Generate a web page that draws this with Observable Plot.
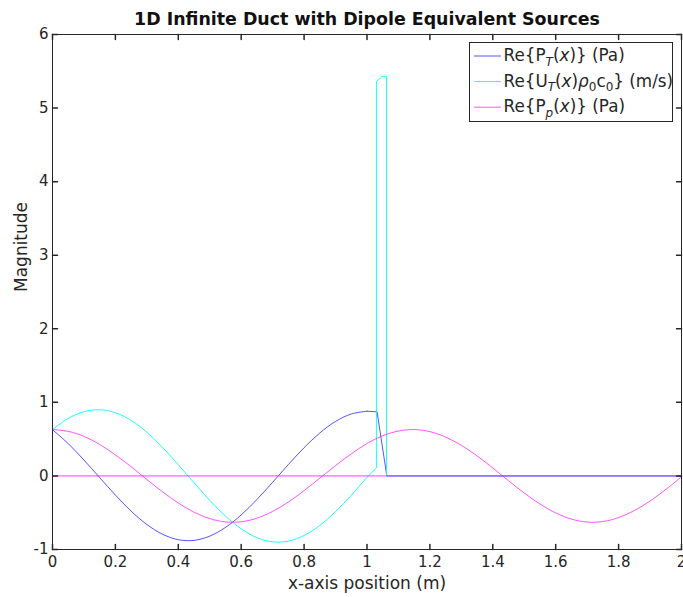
<!DOCTYPE html>
<html>
<head>
<meta charset="utf-8">
<script src="https://cdn.jsdelivr.net/npm/d3@7"></script>
<script src="https://cdn.jsdelivr.net/npm/@observablehq/plot@0.6"></script>
<style>
  body { margin: 0; background: #fff; }
  #chart svg { display: block; }
</style>
</head>
<body>
<div id="chart"></div>
<script>
// Sample positions along the duct (m)
const xGrid = [0, 0.05, 0.1, 0.15, 0.2, 0.25, 0.3, 0.35, 0.4, 0.45, 0.5, 0.55, 0.6, 0.65, 0.7, 0.75, 0.8, 0.85, 0.9, 0.95, 1.0,
  1.05, 1.1, 1.15, 1.2, 1.25, 1.3, 1.35, 1.4, 1.45, 1.5, 1.55, 1.6, 1.65, 1.7, 1.75, 1.8, 1.85, 1.9, 1.95, 2.0];

// Re{P_p(x)} (Pa) over the whole duct
const pPrimary = [0.63, 0.606, 0.538, 0.428, 0.286, 0.125, -0.048, -0.216, -0.368, -0.493, -0.58, -0.625, -0.623, -0.574, -0.482, -0.355, -0.2, -0.03, 0.14, 0.301, 0.44,
  0.546, 0.61, 0.63, 0.602, 0.528, 0.416, 0.272, 0.108, -0.065, -0.232, -0.382, -0.503, -0.587, -0.627, -0.62, -0.566, -0.471, -0.341, -0.184, -0.013];

// Re{P_T(x)} (Pa): smooth part up to x = 1.0, then the drop past the source
const pTotal = [0.629, 0.439, 0.216, -0.023, -0.26, -0.479, -0.66, -0.793, -0.867, -0.876, -0.818, -0.7, -0.53, -0.32, -0.086, 0.155, 0.384, 0.584, 0.741, 0.842, 0.88];
const pTotalTailX = [1.0, 1.032, 1.063, 2.0];
const pTotalTail = [0.88, 0.871, 0, 0];

// Re{U_T(x) rho0 c0} (m/s): smooth part up to x = 1.0, then the spike at the source
const uTotal = [0.63, 0.781, 0.873, 0.9, 0.859, 0.755, 0.593, 0.388, 0.153, -0.093, -0.332, -0.546, -0.719, -0.839, -0.896, -0.886, -0.809, -0.672, -0.485, -0.262, -0.018];
const uTotalTailX = [1.0, 1.03, 1.03, 1.048, 1.062, 1.062, 2.0];
const uTotalTail = [-0.018, 0.11, 5.36, 5.43, 5.43, 0, 0];

const xTicks = [0, 0.2, 0.4, 0.6, 0.8, 1, 1.2, 1.4, 1.6, 1.8, 2];
const yTicks = [-1, 0, 1, 2, 3, 4, 5, 6];

const colors = { pT: "#0000ff", uT: "#00ffff", pP: "#ff00ff" };
const ink = "#262626";

const series = [
  { key: "pT", label: [["Re{P", "n"], ["T", "subi"], ["(", "n"], ["x", "i"], [")} (Pa)", "n"]] },
  { key: "uT", label: [["Re{U", "n"], ["T", "subi"], ["(", "n"], ["x", "i"], [")", "n"], ["ρ", "i"], ["0", "sub"], ["c", "n"], ["0", "sub"], ["} (m/s)", "n"]] },
  { key: "pP", label: [["Re{P", "n"], ["p", "subi"], ["(", "n"], ["x", "i"], [")} (Pa)", "n"]] }
];

const smoothPT = pTotal.map((v, i) => ({ x: xGrid[i], y: v }));
const tailPT = pTotalTail.map((v, i) => ({ x: pTotalTailX[i], y: v }));
const smoothUT = uTotal.map((v, i) => ({ x: xGrid[i], y: v }));
const tailUT = uTotalTail.map((v, i) => ({ x: uTotalTailX[i], y: v }));
const linePP = pPrimary.map((v, i) => ({ x: xGrid[i], y: v }));

// Inward tick: a short stroke from the frame edge
const tickShape = { draw(ctx, l) { ctx.moveTo(0, 0); ctx.lineTo(0, -l); } };
const lw = 0.9;
const lo = 0.75;

const plot = Plot.plot({
  width: 683,
  height: 597,
  marginLeft: 52,
  marginRight: 2,
  marginTop: 34,
  marginBottom: 48,
  style: { fontFamily: "DejaVu Sans", fontSize: "15px", color: ink, background: "#fff" },
  x: { domain: [0, 2] },
  y: { domain: [-1, 6] },
  marks: [
    Plot.line(smoothPT, { x: "x", y: "y", stroke: colors.pT, strokeWidth: lw, strokeOpacity: lo, curve: "catmull-rom" }),
    Plot.line(tailPT, { x: "x", y: "y", stroke: colors.pT, strokeWidth: lw, strokeOpacity: lo }),
    Plot.line(smoothUT, { x: "x", y: "y", stroke: colors.uT, strokeWidth: lw, curve: "catmull-rom" }),
    Plot.line(tailUT, { x: "x", y: "y", stroke: colors.uT, strokeWidth: lw }),
    Plot.line(linePP, { x: "x", y: "y", stroke: colors.pP, strokeWidth: lw, strokeOpacity: lo, curve: "catmull-rom" }),
    Plot.ruleY([0], { stroke: colors.pP, strokeWidth: lw, strokeOpacity: 0.85 }),
    Plot.frame({ stroke: ink, strokeWidth: 1 }),
    Plot.vector(xTicks, { x: d => d, frameAnchor: "bottom", anchor: "start", length: 5, rotate: 0, shape: tickShape, stroke: ink }),
    Plot.vector(xTicks, { x: d => d, frameAnchor: "top", anchor: "start", length: 5, rotate: 180, shape: tickShape, stroke: ink }),
    Plot.vector(yTicks, { y: d => d, frameAnchor: "left", anchor: "start", length: 5, rotate: 90, shape: tickShape, stroke: ink }),
    Plot.vector(yTicks, { y: d => d, frameAnchor: "right", anchor: "start", length: 5, rotate: -90, shape: tickShape, stroke: ink }),
    Plot.axisX({ ticks: xTicks, tickSize: 0, tickPadding: 7, tickFormat: d => String(d), label: null, fill: ink }),
    Plot.axisY({ ticks: yTicks, tickSize: 0, tickPadding: 4, tickFormat: d => String(d), label: null, fill: ink }),
    Plot.text(["x-axis position (m)"], { frameAnchor: "bottom", lineAnchor: "middle", dy: 34, fontSize: 17, fill: ink }),
    Plot.text(["Magnitude"], { frameAnchor: "left", dx: -31, rotate: -90, fontSize: 17, fill: ink }),
    Plot.text(["1D Infinite Duct with Dipole Equivalent Sources"], { frameAnchor: "top", lineAnchor: "middle", dy: -15.5, fontSize: 17.4, fontWeight: "bold", fill: "#111" })
  ]
});

document.getElementById("chart").append(plot);

// Legend box in the upper-right corner of the axes
const svg = d3.select(plot);
const lg = svg.append("g")
  .attr("font-family", "DejaVu Sans").attr("font-size", 16.8)
  .attr("fill", ink).attr("text-anchor", "start");
lg.append("rect")
  .attr("x", 469.5).attr("y", 42.5).attr("width", 203).attr("height", 79)
  .attr("fill", "#fff").attr("stroke", ink).attr("stroke-width", 1);
series.forEach((s, i) => {
  const cy = 56 + i * 25.6;
  lg.append("line")
    .attr("x1", 474).attr("x2", 501).attr("y1", cy).attr("y2", cy)
    .attr("stroke", colors[s.key]).attr("stroke-width", lw)
    .attr("stroke-opacity", s.key === "uT" ? 1 : lo);
  const t = lg.append("text").attr("x", 503.5).attr("y", cy).attr("dy", "0.3em");
  let shifted = false;
  s.label.forEach(([str, kind]) => {
    const isSub = kind === "sub" || kind === "subi";
    const span = t.append("tspan").text(str);
    if (isSub && !shifted) { span.attr("dy", 4.5); shifted = true; }
    else if (!isSub && shifted) { span.attr("dy", -4.5); shifted = false; }
    if (isSub) span.attr("font-size", 12);
    if (kind === "i" || kind === "subi") span.attr("font-style", "italic");
  });
});
</script>
</body>
</html>
